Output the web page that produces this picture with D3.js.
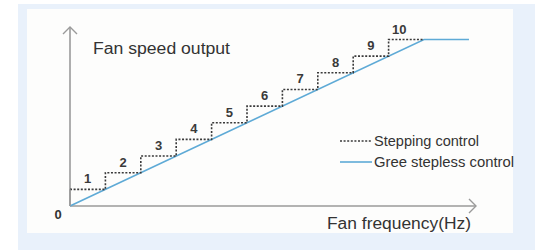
<!DOCTYPE html>
<html><head><meta charset="utf-8">
<script src="https://cdn.jsdelivr.net/npm/d3@7"></script>
<style>html,body{margin:0;padding:0;background:#fff;}svg{display:block;}</style>
</head><body>
<script>
// Data
const stepEdges = [0,1,2,3,4,5,6,7,8,9,10];      // fan frequency step boundaries
const stepLevels = [1,2,3,4,5,6,7,8,9,10];        // speed level of each step
const stepLabels = ["1","2","3","4","5","6","7","8","9","10"];
const steplessFreq = [0, 10, 11.27];
const steplessSpeed = [0, 10, 10];
const legendLabels = ["Stepping control", "Gree stepless control"];
const axisLabels = {x: "Fan frequency(Hz)", y: "Fan speed output", origin: "0"};

const W = 542, H = 250;
const svg = d3.select("body").append("svg").attr("width", W).attr("height", H);
const font = "'Liberation Sans', Arial, sans-serif";

// backgrounds
svg.append("rect").attr("x",18).attr("y",4).attr("width",517).attr("height",246).attr("fill","#e9f1fb");
svg.append("rect").attr("x",27).attr("y",9).attr("width",486).attr("height",224).attr("fill","#fdfdfc");

const x = d3.scaleLinear().domain([0,10]).range([70,424]);
const y = d3.scaleLinear().domain([0,10]).range([206,39.5]);

const axisColor = "#9a9a9a";
// axes
const g = svg.append("g");
g.append("line").attr("x1",x(0)).attr("y1",y(0)).attr("x2",x(0)).attr("y2",27)
  .attr("stroke",axisColor).attr("stroke-width",1.6);
g.append("path").attr("d",`M${x(0)-7},${34} L${x(0)},27 L${x(0)+7},${34}`)
  .attr("fill","none").attr("stroke",axisColor).attr("stroke-width",1.4);
g.append("line").attr("x1",x(0)).attr("y1",y(0)).attr("x2",476).attr("y2",y(0))
  .attr("stroke",axisColor).attr("stroke-width",1.6);
g.append("path").attr("d",`M469,${y(0)-7} L476,${y(0)} L469,${y(0)+7}`)
  .attr("fill","none").attr("stroke",axisColor).attr("stroke-width",1.4);

// stepless line
const lineData = steplessFreq.map((f,i)=>[f, steplessSpeed[i]]);
svg.append("path").datum(lineData)
  .attr("d", d3.line().x(d=>x(d[0])).y(d=>y(d[1])))
  .attr("fill","none").attr("stroke","#5eaad6").attr("stroke-width",1.6);

// stepping control
const stepPts = [[stepEdges[0], stepLevels[0]]];
stepLevels.forEach((lv,i)=>{
  if(i>0) stepPts.push([stepEdges[i], lv]);
  stepPts.push([stepEdges[i+1], lv]);
});
svg.append("path").datum(stepPts)
  .attr("d", d3.line().x(d=>x(d[0])).y(d=>y(d[1])))
  .attr("fill","none").attr("stroke","#3a3a3a").attr("stroke-width",1.6)
  .attr("stroke-dasharray","2,1.6");
svg.append("line").attr("x1",x(0)).attr("x2",x(0)).attr("y1",y(0)).attr("y2",y(stepLevels[0]))
  .attr("stroke",axisColor).attr("stroke-width",1.6);

// step labels
svg.selectAll("text.step").data(stepLabels).enter().append("text")
  .attr("class","step")
  .attr("x",(d,i)=>(x(stepEdges[i])+x(stepEdges[i+1]))/2 - (d.length>1?7:0))
  .attr("y",(d,i)=>y(stepLevels[i]) - 6)
  .attr("text-anchor","middle")
  .attr("font-family",font).attr("font-size",13).attr("font-weight","bold")
  .attr("fill","#3a3a3a").text(d=>d);

// axis labels
svg.append("text").attr("x",93).attr("y",54).attr("font-family",font).attr("font-size",16)
  .attr("textLength",137).attr("lengthAdjust","spacingAndGlyphs")
  .attr("fill","#333").text(axisLabels.y);
svg.append("text").attr("x",327).attr("y",229).attr("font-family",font).attr("font-size",16)
  .attr("textLength",144).attr("lengthAdjust","spacingAndGlyphs")
  .attr("fill","#333").text(axisLabels.x);
svg.append("text").attr("x",58).attr("y",219).attr("text-anchor","middle").attr("font-family",font)
  .attr("font-size",13).attr("font-weight","bold").attr("fill","#333").text(axisLabels.origin);

// legend
const leg = svg.append("g");
const legY = [141, 162];
const legW = [105, 140];
leg.append("line").attr("x1",340).attr("x2",372).attr("y1",legY[0]).attr("y2",legY[0])
  .attr("stroke","#3a3a3a").attr("stroke-width",1.4).attr("stroke-dasharray","2,1.6");
leg.append("line").attr("x1",340).attr("x2",372).attr("y1",legY[1]).attr("y2",legY[1])
  .attr("stroke","#5eaad6").attr("stroke-width",1.6);
leg.selectAll("text").data(legendLabels).enter().append("text")
  .attr("x",374).attr("y",(d,i)=>legY[i]+5)
  .attr("textLength",(d,i)=>legW[i]).attr("lengthAdjust","spacingAndGlyphs")
  .attr("font-family",font).attr("font-size",14).attr("fill","#333").text(d=>d);
</script>
</body></html>
